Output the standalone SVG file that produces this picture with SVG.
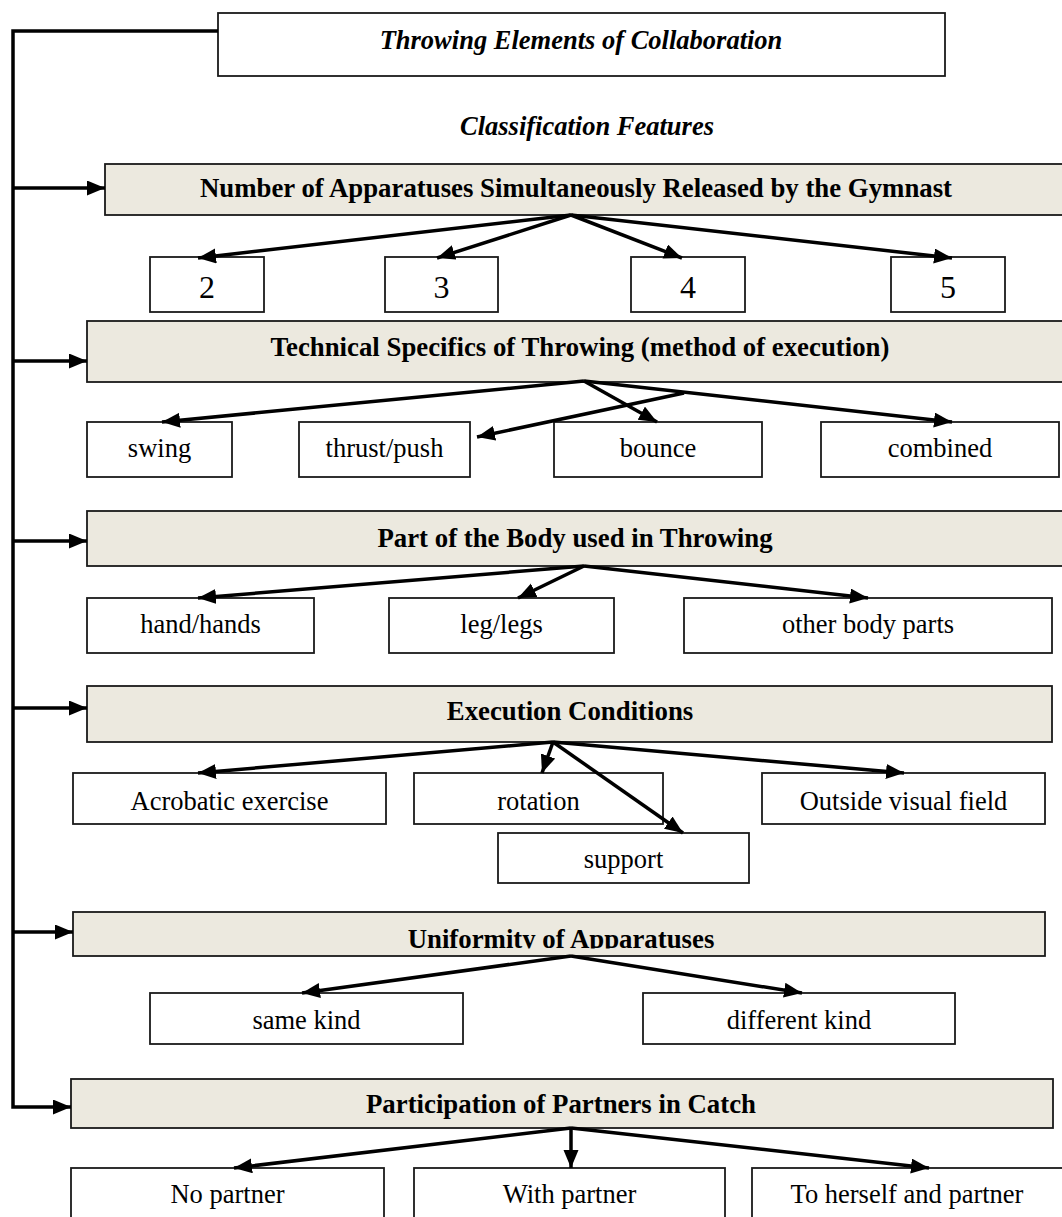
<svg xmlns="http://www.w3.org/2000/svg" width="1062" height="1217" viewBox="0 0 1062 1217">
<style>
text{font-family:"Liberation Serif","Times New Roman",serif;fill:#000;text-anchor:middle}
.t{font-size:26.5px;font-weight:bold;font-style:italic}
.h{font-size:26.8px;font-weight:bold}
.i{font-size:26.5px}
.n{font-size:32px}
.box{fill:#fff;stroke:#1a1a1a;stroke-width:1.8}
.hdr{fill:#ECE9DF;stroke:#1a1a1a;stroke-width:1.8}
.c{fill:none;stroke:#000;stroke-width:3.5}
.a{marker-end:url(#ah)}
</style>
<defs>
<marker id="ah" markerUnits="userSpaceOnUse" markerWidth="20" markerHeight="17" refX="18" refY="7.5" orient="auto">
<path d="M0,0 L18,7.5 L0,15 z" fill="#000"/>
</marker>
<clipPath id="clipU"><rect x="73" y="912" width="972" height="36.5"/></clipPath>
</defs>

<g id="title"><rect class="box" x="218" y="13" width="727" height="63"/><text class="t" x="581" y="49">Throwing Elements of Collaboration</text></g>
<g id="classification"><text class="t" x="587" y="135">Classification Features</text></g>

<g id="h1"><rect class="hdr" x="105" y="164" width="970" height="51"/><text class="h" x="576" y="197">Number of Apparatuses Simultaneously Released by the Gymnast</text></g>
<g id="n2"><rect class="box" x="150" y="257" width="114" height="55"/><text class="n" x="207" y="298">2</text></g>
<g id="n3"><rect class="box" x="385" y="257" width="113" height="55"/><text class="n" x="441.5" y="298">3</text></g>
<g id="n4"><rect class="box" x="631" y="257" width="114" height="55"/><text class="n" x="688" y="298">4</text></g>
<g id="n5"><rect class="box" x="891" y="257" width="114" height="55"/><text class="n" x="948" y="298">5</text></g>

<g id="h2"><rect class="hdr" x="87" y="321" width="988" height="61"/><text class="h" x="580" y="356">Technical Specifics of Throwing (method of execution)</text></g>
<g id="swing"><rect class="box" x="87" y="422" width="145" height="55"/><text class="i" x="159.5" y="457">swing</text></g>
<g id="thrust"><rect class="box" x="299" y="422" width="171" height="55"/><text class="i" x="384.5" y="457">thrust/push</text></g>
<g id="bounce"><rect class="box" x="554" y="422" width="208" height="55"/><text class="i" x="658" y="457">bounce</text></g>
<g id="combined"><rect class="box" x="821" y="422" width="238" height="55"/><text class="i" x="940" y="457">combined</text></g>

<g id="h3"><rect class="hdr" x="87" y="511" width="988" height="55"/><text class="h" x="575" y="547">Part of the Body used in Throwing</text></g>
<g id="hand"><rect class="box" x="87" y="598" width="227" height="55"/><text class="i" x="200.5" y="633">hand/hands</text></g>
<g id="leg"><rect class="box" x="389" y="598" width="225" height="55"/><text class="i" x="501.5" y="633">leg/legs</text></g>
<g id="other"><rect class="box" x="684" y="598" width="368" height="55"/><text class="i" x="868" y="633">other body parts</text></g>

<g id="h4"><rect class="hdr" x="87" y="686" width="965" height="56"/><text class="h" x="570" y="720">Execution Conditions</text></g>
<g id="acro"><rect class="box" x="73" y="773" width="313" height="51"/><text class="i" x="229.5" y="810">Acrobatic exercise</text></g>
<g id="rotation"><rect class="box" x="414" y="773" width="249" height="51"/><text class="i" x="538.5" y="810">rotation</text></g>
<g id="outside"><rect class="box" x="762" y="773" width="283" height="51"/><text class="i" x="903.5" y="810">Outside visual field</text></g>
<g id="support"><rect class="box" x="498" y="833" width="251" height="50"/><text class="i" x="623.5" y="868">support</text></g>

<g id="h5"><rect class="hdr" x="73" y="912" width="972" height="44"/><text class="h" x="561" y="948" clip-path="url(#clipU)">Uniformity of Apparatuses</text></g>
<g id="same"><rect class="box" x="150" y="993" width="313" height="51"/><text class="i" x="306.5" y="1029">same kind</text></g>
<g id="different"><rect class="box" x="643" y="993" width="312" height="51"/><text class="i" x="799" y="1029">different kind</text></g>

<g id="h6"><rect class="hdr" x="71" y="1079" width="982" height="49"/><text class="h" x="561" y="1113">Participation of Partners in Catch</text></g>
<g id="nopartner"><rect class="box" x="71" y="1168" width="313" height="60"/><text class="i" x="227.5" y="1203">No partner</text></g>
<g id="withpartner"><rect class="box" x="414" y="1168" width="311" height="60"/><text class="i" x="569.5" y="1203">With partner</text></g>
<g id="herself"><rect class="box" x="752" y="1168" width="320" height="60"/><text class="i" x="907" y="1203">To herself and partner</text></g>

<g id="connectors">
<polyline class="c" points="218,31 13,31 13,1107 71,1107" marker-end="url(#ah)"/>
<line class="c a" x1="13" y1="188" x2="105" y2="188"/>
<line class="c a" x1="13" y1="361" x2="87" y2="361"/>
<line class="c a" x1="13" y1="541" x2="87" y2="541"/>
<line class="c a" x1="13" y1="708" x2="87" y2="708"/>
<line class="c a" x1="13" y1="932" x2="73" y2="932"/>

<line class="c a" x1="571" y1="215" x2="198" y2="258"/>
<line class="c a" x1="571" y1="215" x2="437" y2="258"/>
<line class="c a" x1="571" y1="215" x2="682" y2="258"/>
<line class="c a" x1="571" y1="215" x2="952" y2="258"/>

<line class="c a" x1="584" y1="381" x2="162" y2="422"/>
<line class="c a" x1="684" y1="393" x2="477" y2="437"/>
<line class="c a" x1="584" y1="381" x2="657" y2="422"/>
<line class="c a" x1="584" y1="381" x2="952" y2="422"/>

<line class="c a" x1="584" y1="566" x2="198" y2="598"/>
<line class="c a" x1="584" y1="566" x2="518" y2="598"/>
<line class="c a" x1="584" y1="566" x2="868" y2="598"/>

<line class="c a" x1="553" y1="742" x2="198" y2="773"/>
<line class="c a" x1="553" y1="742" x2="542" y2="773"/>
<line class="c a" x1="553" y1="742" x2="683" y2="833"/>
<line class="c a" x1="553" y1="742" x2="904" y2="773"/>

<line class="c a" x1="571" y1="956" x2="302" y2="993"/>
<line class="c a" x1="571" y1="956" x2="802" y2="993"/>

<line class="c a" x1="571" y1="1128" x2="234" y2="1168"/>
<line class="c a" x1="571" y1="1128" x2="571" y2="1168"/>
<line class="c a" x1="571" y1="1128" x2="929" y2="1168"/>
</g>
</svg>
